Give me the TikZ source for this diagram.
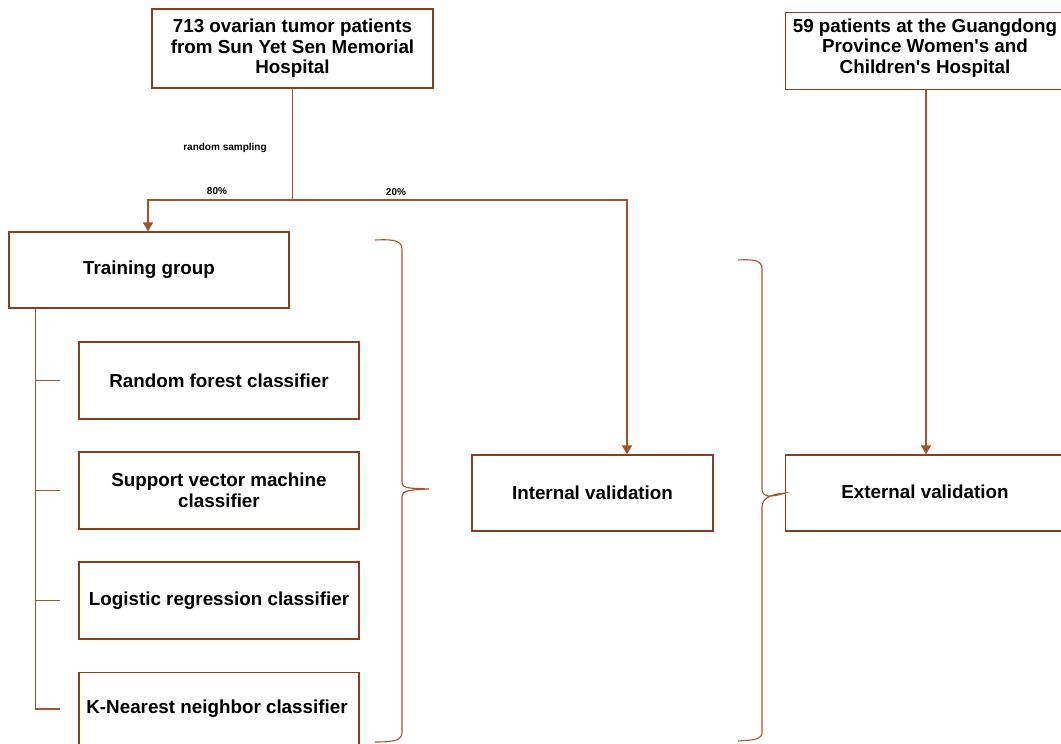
\documentclass[tikz,border=0pt]{standalone}
\usepackage{fontspec}
\setmainfont{Liberation Sans}
\usetikzlibrary{arrows.meta,calc}
\definecolor{boxbrown}{RGB}{140,62,28}
\definecolor{linebrown}{RGB}{165,82,42}
\begin{document}
\begin{tikzpicture}[x=1pt,y=-1pt,
  bigtext/.style={font=\fontsize{18.8}{20.5}\selectfont\bfseries,align=center},
  box/.style={draw=boxbrown,line width=1.3pt,rectangle,inner sep=0pt,bigtext},
  conn/.style={draw=linebrown,line width=1.3pt},
  arr/.style={conn,-{Triangle[width=10pt,length=9pt]}},
  small/.style={font=\fontsize{10}{11}\selectfont\bfseries,inner sep=0pt},
  brace/.style={draw=linebrown,line width=1.1pt}]
\useasboundingbox (0,0) rectangle (1061,744);
% top boxes
\node[box,minimum width=281pt,minimum height=79pt] (src1) at (292.5,48.5)
  {713 ovarian tumor patients\\from Sun Yet Sen Memorial\\Hospital};
\node[box,minimum width=300pt,minimum height=77pt,anchor=north west] (src2) at (785,12) {};
\node[bigtext] (src2t) at (925,48)
  {59 patients at the Guangdong\\Province Women\textquotesingle s and\\Children\textquotesingle s Hospital};
% training
\node[box,minimum width=280pt,minimum height=76pt] (train) at (149,270) {Training group};
% classifiers
\node[box,minimum width=280pt,minimum height=77pt] (c1) at (219,380.5) {Random forest classifier};
\node[box,minimum width=280pt,minimum height=77pt] (c2) at (219,490.5) {Support vector machine\\classifier};
\node[box,minimum width=280pt,minimum height=77pt] (c3) at (219,600.5) {Logistic regression classifier};
\node[box,minimum width=280pt,minimum height=77pt,anchor=north] (c4) at (219,672) {};
\node[bigtext] (c4t) at (217,709) {K-Nearest neighbor classifier};
% validation
\node[box,minimum width=241pt,minimum height=76pt] (intv) at (592.5,493) {Internal validation};
\node[box,minimum width=300pt,minimum height=76pt,anchor=west] (extv) at (785,493) {};
\node[bigtext] (extvt) at (925,492) {External validation};
% labels
\node[small] (rs) at (225,148) {random sampling};
\node[small] (p80) at (217,191) {80\%};
\node[small] (p20) at (396,192) {20\%};
% connectors
\coordinate (split) at (src1.south |- 0,200);
\draw[conn] (src1.south) -- (split);
\draw[arr] (split) -| ([xshift=-1pt]train.north);
\draw[arr] (split) -| ([xshift=34.5pt]intv.north);
\draw[arr] (src2.south -| 926,0) -- (intv.north -| 926,0);
% tree
\coordinate (trunk) at ([xshift=27pt]train.south west);
\draw[conn] (trunk) |- ([xshift=-18pt]c4.west |- c4t);
\foreach \c in {c1,c2,c3}{\draw[conn] (trunk |- \c.west) -- ([xshift=-18pt]\c.west);}
% brace 1
\draw[brace] (375,240) .. controls (396,239) and (402,241) .. (402,250)
  -- (402,482) .. controls (402,489) and (410,488) .. (429,489)
  .. controls (410,490) and (402,490) .. (402,497)
  -- (402,732) .. controls (402,740) and (396,742) .. (375,742);
% brace 2
\coordinate (b2tip) at (extv.west);
\draw[brace] (738,260) .. controls (756,259) and (762,261) .. (762,269)
  -- (762,489) .. controls (762,497) and (770,498) .. (b2tip)
  .. controls (770,494) and (762,499) .. (762,507)
  -- (762,732) .. controls (762,739) and (756,740) .. (738,741);
\end{tikzpicture}
\end{document}
